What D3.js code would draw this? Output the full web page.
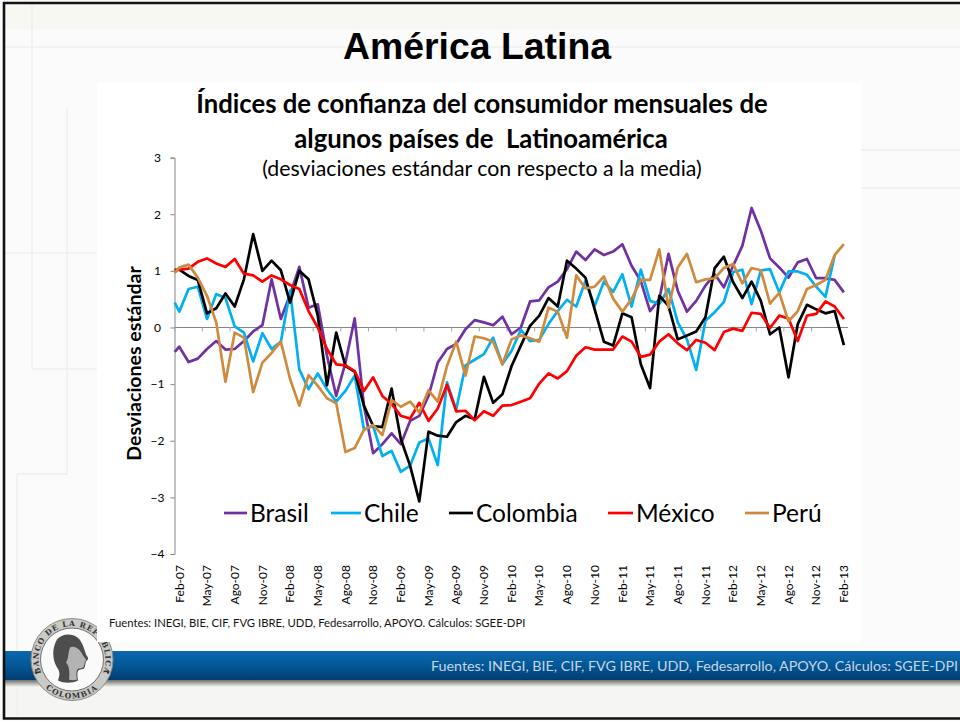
<!DOCTYPE html>
<html><head><meta charset="utf-8">
<script src="https://cdn.jsdelivr.net/npm/d3@7"></script>
<style>html,body{margin:0;padding:0;background:#fff;overflow:hidden}svg{display:block}text{white-space:pre}</style>
</head><body><div id="c"></div>
<script>
// first value of every series is the line's lead-in at the value axis; the rest run Feb-07 .. Feb-13
const tickLabels = ["Feb-07","May-07","Ago-07","Nov-07","Feb-08","May-08","Ago-08","Nov-08","Feb-09","May-09","Ago-09","Nov-09","Feb-10","May-10","Ago-10","Nov-10","Feb-11","May-11","Ago-11","Nov-11","Feb-12","May-12","Ago-12","Nov-12","Feb-13"];
const yTicks = [3,2,1,0,-1,-2,-3,-4];
const brasil = [-0.43,-0.34,-0.61,-0.55,-0.38,-0.24,-0.39,-0.38,-0.24,-0.07,0.04,0.85,0.15,0.58,1.07,0.35,0.41,-0.50,-1.21,-0.62,0.16,-1.38,-2.22,-2.06,-1.87,-2.06,-1.65,-1.56,-1.21,-0.62,-0.38,-0.29,-0.03,0.13,0.09,0.04,0.19,-0.12,0,0.46,0.48,0.71,0.81,1.03,1.34,1.19,1.38,1.28,1.34,1.47,1.09,0.82,0.29,0.50,1.30,0.65,0.28,0.47,0.74,0.94,0.71,1.09,1.44,2.11,1.71,1.22,1.06,0.88,1.15,1.21,0.87,0.87,0.84,0.62];
const chile = [0.44,0.28,0.68,0.72,0.15,0.59,0.52,0.02,-0.09,-0.60,-0.10,-0.38,-0.25,0.65,-0.74,-1.09,-0.81,-1.09,-1.31,-1.12,-0.85,-1.80,-1.74,-2.27,-2.18,-2.55,-2.44,-2.03,-1.96,-2.43,-0.97,-1.45,-0.67,-0.57,-0.47,-0.18,-0.65,-0.41,-0.04,-0.24,-0.22,0.06,0.29,0.49,0.37,0.82,0.38,0.81,0.63,0.94,0.37,1.02,0.47,0.42,0.68,0.09,-0.21,-0.75,0.12,0.27,0.45,0.98,1.02,0.41,1.01,1.03,0.62,0.99,0.99,0.93,0.72,0.54,1.27,null];
const colombia = [1.02,1.02,0.91,0.84,0.25,0.34,0.60,0.37,0.85,1.65,1.00,1.18,1.01,0.44,1.00,0.85,0.21,-1.02,-0.09,-0.68,-0.78,-1.38,-1.74,-1.76,-1.08,-1.97,-2.44,-3.07,-1.84,-1.91,-1.93,-1.67,-1.56,-1.62,-0.87,-1.33,-1.18,-0.68,-0.32,0.03,0.21,0.52,0.37,1.18,1.04,0.88,0.32,-0.25,-0.32,0.25,0.18,-0.65,-1.07,0.56,0.38,-0.21,-0.14,-0.07,0.18,1.05,1.25,0.80,0.52,0.81,0.47,-0.12,0,-0.88,0.06,0.40,0.32,0.25,0.29,-0.31];
const mexico = [1.00,1.02,1.04,1.16,1.22,1.13,1.07,1.21,0.95,0.92,0.81,0.92,0.85,0.75,0.68,0.29,0,-0.38,-0.65,-0.67,-0.77,-1.12,-0.88,-1.21,-1.35,-1.56,-1.61,-1.33,-1.65,-1.43,-1.01,-1.48,-1.47,-1.64,-1.48,-1.56,-1.38,-1.37,-1.31,-1.25,-0.99,-0.81,-0.90,-0.77,-0.50,-0.35,-0.39,-0.39,-0.39,-0.16,-0.25,-0.52,-0.48,-0.25,-0.12,-0.28,-0.40,-0.22,-0.27,-0.40,-0.08,-0.02,-0.06,0.26,0.24,-0.01,0.21,0.16,-0.24,0.21,0.24,0.46,0.37,0.15];
const peru = [0.96,1.06,1.11,0.88,0.56,0.09,-0.96,-0.09,-0.18,-1.14,-0.62,-0.45,-0.25,-0.91,-1.38,-0.84,-1.03,-1.25,-1.34,-2.20,-2.13,-1.81,-1.72,-1.90,-1.28,-1.40,-1.31,-1.50,-1.11,-1.31,-0.68,-0.25,-0.85,-0.16,-0.19,-0.25,-0.65,-0.21,-0.14,-0.19,-0.25,0.35,0.28,-0.18,0.92,0.69,0.72,0.90,0.51,0.28,0.50,0.84,0.84,1.38,0.35,1.06,1.30,0.80,0.85,0.87,1.05,1.12,0.78,1.05,1.01,0.42,0.61,0.11,0.29,0.68,0.75,0.84,1.28,1.47];
const seriesNames = ["Brasil","Chile","Colombia","México","Perú"];
const seriesColors = ["#7030a0","#00b0f0","#000000","#ff0000","#d08a3e"];
const seriesValues = [brasil,chile,colombia,mexico,peru];
const legendLineX = [224,331,449,608,745];
const legendLineW = [23,30,24,25,24];

const W=960,H=721;
const svg=d3.select("#c").append("svg").attr("width",W).attr("height",H);
const defs=svg.append("defs");
const lg=defs.append("linearGradient").attr("id","band").attr("x1",0).attr("x2",0).attr("y1",0).attr("y2",1);
[[0,"#0b69ad"],[0.45,"#045a9a"],[1,"#003d70"]].forEach(s=>lg.append("stop").attr("offset",s[0]).attr("stop-color",s[1]));
const sh=defs.append("linearGradient").attr("id","shade").attr("x1",0).attr("x2",0).attr("y1",0).attr("y2",1);
[[0,"#6f6f6c"],[1,"#f5f5f3"]].forEach(s=>sh.append("stop").attr("offset",s[0]).attr("stop-color",s[1]));
const bl=defs.append("filter").attr("id","blur");
bl.append("feGaussianBlur").attr("stdDeviation",0.5);
const bl2=defs.append("filter").attr("id","soft");
bl2.append("feGaussianBlur").attr("stdDeviation",0.25);

// slide background
svg.append("rect").attr("width",W).attr("height",H).attr("fill","#fbfbfb");
svg.append("rect").attr("x",4).attr("y",4).attr("width",W).attr("height",25).attr("fill","#f8f8f3");
svg.append("rect").attr("x",5).attr("y",680).attr("width",955).attr("height",38).attr("fill","#f5f5f3");
const faint=[[32,4,32,369],[32,369,97,369],[67,107,67,474],[67,474,17,474],[17,474,17,716],[4,47,960,47],[4,253,97,253],[861,150,960,150],[861,188,960,188]];
svg.append("g").selectAll("line").data(faint).join("line")
 .attr("x1",d=>d[0]).attr("y1",d=>d[1]).attr("x2",d=>d[2]).attr("y2",d=>d[3])
 .attr("stroke","#efefee").attr("stroke-width",1.5);
// band
svg.append("rect").attr("x",5).attr("y",680).attr("width",955).attr("height",7).attr("fill","url(#shade)");
svg.append("rect").attr("x",5).attr("y",651).attr("width",955).attr("height",29).attr("fill","url(#band)");

// seal (under the chart panel)
const seal=svg.append("g").attr("transform","translate(72,659.5)");
seal.append("circle").attr("r",41).attr("fill","#c9c9c5").attr("stroke","#8b8b86").attr("stroke-width",1);
seal.append("circle").attr("r",31.5).attr("fill","#fafafa").attr("stroke","#6f6f6f");
defs.append("path").attr("id","arcTop").attr("d","M-30.4,14.2A33.5,33.5 0 1 1 30.4,14.2");
defs.append("path").attr("id","arcBot").attr("d","M-29.9,25A39,39 0 0 0 29.9,25");
seal.append("text").attr("font-family","DejaVu Serif").attr("font-weight","bold").attr("font-size",7.5).attr("letter-spacing",0.9).attr("fill","#333")
  .append("textPath").attr("href","#arcTop").attr("startOffset","50%").attr("text-anchor","middle").text("BANCO DE LA REPUBLICA");
seal.append("text").attr("font-family","DejaVu Serif").attr("font-weight","bold").attr("font-size",7.5).attr("letter-spacing",1.2).attr("fill","#333")
  .append("textPath").attr("href","#arcBot").attr("startOffset","50%").attr("text-anchor","middle").text("COLOMBIA");
seal.selectAll("circle.dot").data([-1,1]).join("circle").attr("class","dot").attr("cx",d=>d*36).attr("cy",13).attr("r",1.2).attr("fill","#333");
seal.append("path").attr("d","M-15,-20C-8,-28 6,-26 10,-16C12,-12 13,-8 14,-5C16,-2 17,-1 15,1C13,2 14,4 13,6C13,9 11,10 8,10C5,11 5,14 6,21C0,24 -8,24 -14,21C-12,15 -12,12 -15,8C-20,0 -20,-12 -15,-20Z").attr("fill","#4e4e4e").attr("filter","url(#blur)");
seal.append("path").attr("d","M-2,-12C3,-15 9,-9 11,-4C13,-1 15,0 14,1C12,2 13,4 12,6C12,8 10,9 7,9C4,10 4,14 5,20C2,21 -1,21 -3,20C-2,12 -3,6 -6,3C-3,-2 -4,-7 -2,-12Z").attr("fill","#b3b3b3").attr("filter","url(#blur)");

// white chart panel
svg.append("rect").attr("x",97).attr("y",83).attr("width",764).attr("height",559).attr("fill","#fff");
// border
svg.append("path").attr("d","M960,3H4V718.5H960").attr("fill","none").attr("stroke","#111").attr("stroke-width",2.6);

svg.append("text").attr("x",477).attr("y",59).attr("text-anchor","middle").attr("font-family","Liberation Sans").attr("font-weight","bold").attr("font-size",37.4).attr("fill","#000").text("América Latina");

// scales
const x=d3.scaleBand().domain(d3.range(73)).range([174.7,848.5]);
const y=d3.scaleLinear().domain([-4,3]).range([554,157.6]);
const xc=i=>i===0?x.range()[0]:x(i-1)+x.bandwidth()/2;

// y axis
const yAxis=d3.axisLeft(y).tickValues(yTicks).tickSize(4).tickPadding(11).tickFormat(d3.format("d"));
const gy=svg.append("g").attr("transform","translate(174.5,0)").call(yAxis);
gy.select(".domain").attr("stroke","#868686");
gy.selectAll(".tick line").attr("stroke","#868686");
gy.selectAll("text").attr("font-family","Lato").attr("font-size",12).attr("fill","#000").attr("text-anchor","middle").attr("x",-17);

// x labels
const tickIdx=d3.range(0,73,3);
const xAxis=d3.axisBottom(x).tickValues(tickIdx).tickSize(0).tickFormat((d,i)=>tickLabels[i]);
const gx=svg.append("g").attr("transform","translate(0,560)").call(xAxis);
gx.select(".domain").remove();
gx.selectAll("text").attr("font-family","Lato").attr("font-size",12).attr("fill","#000")
  .attr("text-anchor","end").attr("transform","rotate(-90)").attr("x",-5).attr("y",0).attr("dy","0.35em");
// zero line with ticks
svg.append("line").attr("x1",174.5).attr("x2",848).attr("y1",y(0)).attr("y2",y(0)).attr("stroke","#868686");
svg.append("g").selectAll("line").data(tickIdx).join("line")
  .attr("x1",d=>x(d)).attr("x2",d=>x(d)).attr("y1",y(0)).attr("y2",y(0)+4).attr("stroke","#a6a6a6");

// series
const line=d3.line().defined(d=>d!==null).x((d,i)=>xc(i)).y(d=>y(d));
svg.append("g").attr("filter","url(#soft)").selectAll("path").data(seriesValues).join("path")
  .attr("d",line).attr("fill","none").attr("stroke",(d,i)=>seriesColors[i]).attr("stroke-width",2.7).attr("stroke-linejoin","round");

// titles
const tt=svg.append("g").attr("font-family","Lato").attr("fill","#000").attr("text-anchor","middle");
tt.append("text").attr("x",482).attr("y",113).attr("font-weight","bold").attr("font-size",25.7).text("Índices de confianza del consumidor mensuales de");
tt.append("text").attr("x",481).attr("y",148).attr("font-weight","bold").attr("font-size",25.7).text("algunos países de  Latinoamérica");
tt.append("text").attr("x",482).attr("y",176).attr("font-size",21.3).text("(desviaciones estándar con respecto a la media)");
svg.append("text").attr("transform","translate(141,363.5) rotate(-90)").attr("text-anchor","middle").attr("font-family","Lato").attr("font-weight","bold").attr("font-size",19.5).text("Desviaciones estándar");

// legend
const lgd=svg.append("g").selectAll("g").data(seriesNames).join("g");
lgd.append("line").attr("x1",(d,i)=>legendLineX[i]).attr("x2",(d,i)=>legendLineX[i]+legendLineW[i]).attr("y1",513).attr("y2",513)
  .attr("stroke",(d,i)=>seriesColors[i]).attr("stroke-width",2.7);
lgd.append("text").attr("x",(d,i)=>legendLineX[i]+legendLineW[i]+3).attr("y",522).attr("font-family","Lato").attr("font-size",24.5).text(d=>d);

// sources
svg.append("text").attr("x",109).attr("y",627).attr("font-family","Lato").attr("font-size",11.3).attr("fill","#111").text("Fuentes: INEGI, BIE, CIF, FVG IBRE, UDD, Fedesarrollo, APOYO. Cálculos: SGEE-DPI");
svg.append("text").attr("x",958).attr("y",671).attr("text-anchor","end").attr("font-family","Lato").attr("font-size",14.3).attr("fill","#c6d6e6").text("Fuentes: INEGI, BIE, CIF, FVG IBRE, UDD, Fedesarrollo, APOYO. Cálculos: SGEE-DPI");
</script></body></html>
